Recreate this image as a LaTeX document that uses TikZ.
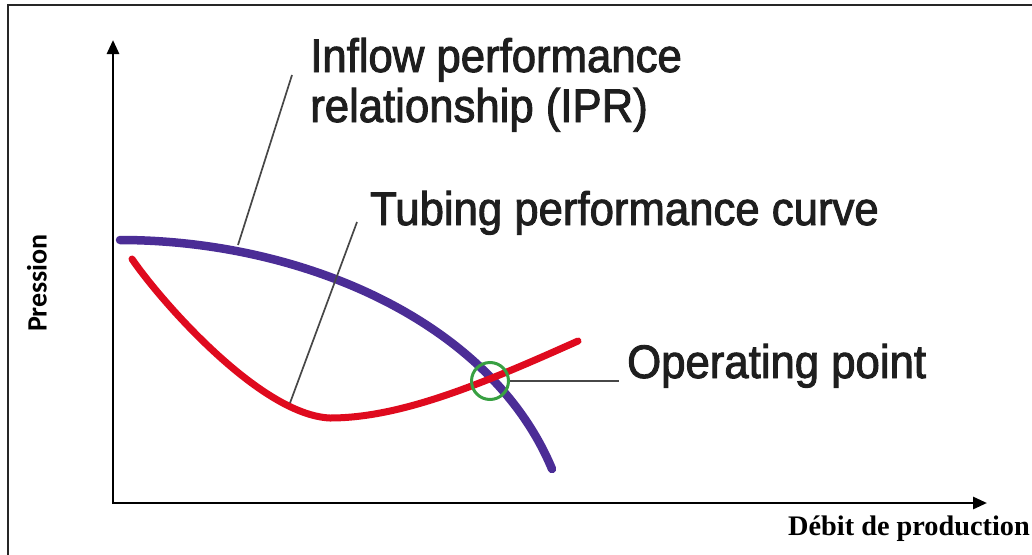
\documentclass[tikz,border=0pt]{standalone}
\usepackage{fontspec}
\setmainfont[FakeBold=2,FakeStretch=0.93]{Liberation Sans}
\newfontfamily\axisserif{Liberation Serif}
\newfontfamily\calib{Carlito}
\usetikzlibrary{arrows.meta}
\definecolor{iprblue}{HTML}{4B2D96}
\definecolor{tpcred}{HTML}{DF0A1E}
\definecolor{opgreen}{HTML}{38A042}
\definecolor{inkgray}{HTML}{1E1E1E}
\begin{document}
\begin{tikzpicture}[x=1pt,y=-1pt,
  axis/.style={line width=2.8pt, line join=miter, {Triangle[length=14pt,width=12pt]}-{Triangle[length=14pt,width=12pt]}},
  leader/.style={line width=1.7pt, draw=black!72},
  lbl/.style={font=\fontsize{47}{52}\selectfont, anchor=base west, inner sep=0pt, text=inkgray},
  ipr/.style={line width=8.5pt, draw=iprblue, line cap=round},
  tpc/.style={line width=7pt, draw=tpcred, line cap=round}]
\useasboundingbox (0,0) rectangle (1032,554);

% frame
\draw[line width=2.6pt, black!85] (8,570) -- (8,5) -- (1050,5);

% axes
\coordinate (O) at (113,503);
\coordinate (ytip) at (113,40);
\coordinate (xtip) at (987,503);
\draw[axis] (ytip) -- (O) -- (xtip);

% axis titles
\node[font=\calib\bfseries\fontsize{28}{30}\selectfont, rotate=90, inner sep=0pt] (ylbl) at (37,283) {Pression};
\node[font=\axisserif\bfseries\fontsize{28.3}{30}\selectfont, anchor=base west, inner sep=0pt] (xlbl) at (788,535) {Débit de production};

% inflow performance relationship
\draw[ipr] (120,240) .. controls (300,240) and (490,320) .. (552,469);
% tubing performance curve
\draw[tpc] (132,259) .. controls (160,300) and (260,415) .. (330,418)
                     .. controls (400,418) and (480,385) .. (578,341);

% operating point
\node[circle, draw=opgreen, line width=3pt, minimum size=37pt, inner sep=0pt] (op) at (490,381) {};

% labels
\node[lbl] (ipr1) at (310,72) {Inflow performance};
\node[lbl] (ipr2) at (310,122) {relationship (IPR)};
\node[lbl] (tpcl) at (370,225) {Tubing performance curve};
\node[lbl] (opl) at (627,378) {Operating point};

% leaders
\coordinate (iprA) at (238,245);
\coordinate (iprB) at (292,75);
\coordinate (tpcA) at (290,403);
\coordinate (tpcB) at (357,222);
\coordinate (opB) at (619,381);
\draw[leader] (iprA) -- (iprB);
\draw[leader] (tpcA) -- (tpcB);
\draw[leader] (op.east) -- (opB);
\end{tikzpicture}
\end{document}
